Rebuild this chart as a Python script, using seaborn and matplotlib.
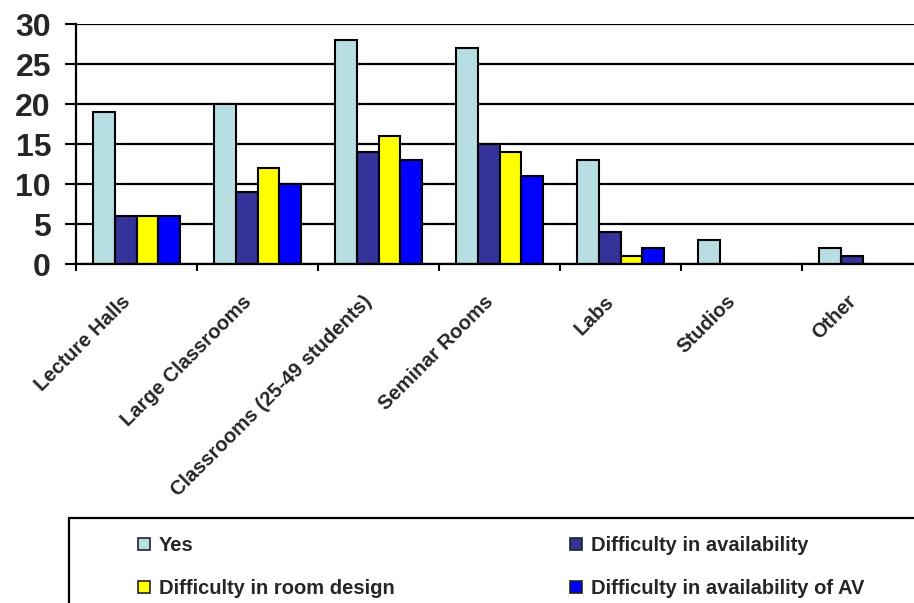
import matplotlib
matplotlib.use("Agg")
import matplotlib.pyplot as plt
import matplotlib.transforms as mtransforms
from matplotlib.patches import Patch, Rectangle
import seaborn as sns
import pandas as pd

# Room types surveyed
categories = ["Lecture Halls", "Large Classrooms", "Classrooms (25-49 students)",
              "Seminar Rooms", "Labs", "Studios", "Other"]

# Response counts per room type
yes = [19, 20, 28, 27, 13, 3, 2]
difficulty_availability = [6, 9, 14, 15, 4, 0, 1]
difficulty_room_design = [6, 12, 16, 14, 1, 0, 0]
difficulty_av = [6, 10, 13, 11, 2, 0, 0]

series = ["Yes", "Difficulty in availability", "Difficulty in room design",
          "Difficulty in availability of AV"]
colors = ["#B6DEE3", "#333399", "#FFFF00", "#0000FF"]

y_ticks = [0, 5, 10, 15, 20, 25, 30]

rows = []
for name, vals in zip(series, [yes, difficulty_availability,
                               difficulty_room_design, difficulty_av]):
    for cat, v in zip(categories, vals):
        rows.append({"room": cat, "count": v, "response": name})
df = pd.DataFrame(rows)

sns.set_style("white")
plt.rcParams["font.family"] = ["Liberation Sans", "DejaVu Sans"]
plt.rcParams["font.weight"] = "bold"

fig = plt.figure(figsize=(9.14, 6.03), dpi=100)
ax = fig.add_axes([76 / 914, 1 - 264 / 603, 847 / 914, 240 / 603])

sns.barplot(data=df, x="room", y="count", hue="response",
            order=categories, hue_order=series,
            palette=dict(zip(series, colors)), saturation=1,
            width=0.727, edgecolor="black", linewidth=1.5,
            legend=False, ax=ax)

ax.set_axisbelow(True)
ax.set_xlim(-0.5, len(categories) - 0.5)
ax.set_ylim(0, 30)
ax.set_yticks(y_ticks)
ax.set_yticklabels([str(t) for t in y_ticks], fontsize=23, fontweight="bold")
ax.yaxis.grid(True, color="black", linewidth=1.6)
ax.xaxis.grid(False)
ax.set_xlabel("")
ax.set_ylabel("")

for side in ["top", "right"]:
    ax.spines[side].set_visible(False)
for side in ["left", "bottom"]:
    ax.spines[side].set_color("black")
    ax.spines[side].set_linewidth(1.6)

ax.tick_params(axis="y", which="major", left=True, length=8, width=1.5,
               pad=10, color="black", direction="out")

# Category separators on the x axis
ax.set_xticks([i - 0.5 for i in range(len(categories) + 1)], minor=True)
ax.tick_params(axis="x", which="minor", bottom=True, length=5, width=1.5,
               color="black", direction="out")
ax.set_xticks(range(len(categories)))
ax.tick_params(axis="x", which="major", length=0, pad=20)
ax.set_xticklabels(categories, rotation=45, ha="right", va="top",
                   rotation_mode="anchor", fontsize=14.5, fontweight="bold")
offset = mtransforms.ScaledTranslation(-16 / 100, 0, fig.dpi_scale_trans)
for lbl in ax.get_xticklabels():
    lbl.set_transform(lbl.get_transform() + offset)

# Legend frame and entries below the chart
fig.add_artist(Rectangle((69 / 914, -0.1), 1.0, (603 - 518) / 603 + 0.1,
                         transform=fig.transFigure, fill=False,
                         edgecolor="black", linewidth=1.6))

handles = [Patch(facecolor=c, edgecolor="#222222", linewidth=1.2) for c in colors]
leg_kw = dict(frameon=False, loc="upper left",
              handlelength=0.6, handleheight=0.6, handletextpad=0.45,
              labelspacing=1.2, borderpad=0, borderaxespad=0,
              prop={"weight": "bold", "size": 14.5})
fig.legend(handles=[handles[0], handles[2]], labels=[series[0], series[2]],
           bbox_to_anchor=(138 / 914, 1 - 536 / 603), **leg_kw)
fig.legend(handles=[handles[1], handles[3]], labels=[series[1], series[3]],
           bbox_to_anchor=(570 / 914, 1 - 536 / 603), **leg_kw)

fig.savefig("out.png", dpi=100)
